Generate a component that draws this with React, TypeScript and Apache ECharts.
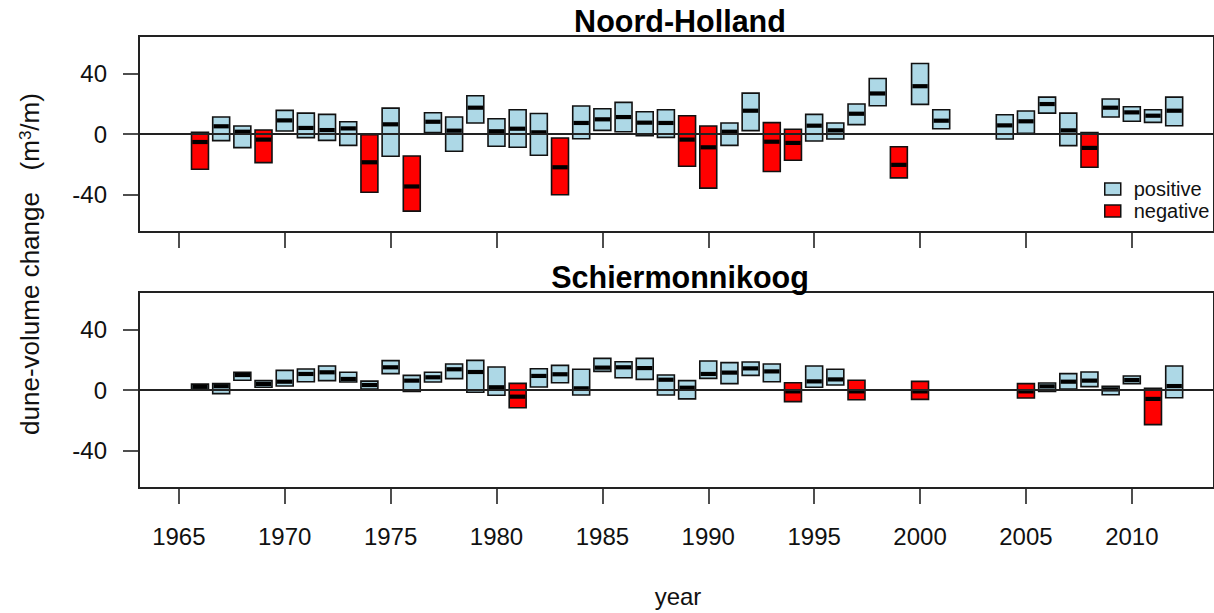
import React, { useEffect, useRef } from 'react'
import * as echarts from 'echarts'

// ---- data ----
// Noord-Holland: year, lower edge, upper edge, median
const nhYears = [
  1966, 1967, 1968, 1969, 1970, 1971, 1972, 1973, 1974, 1975, 1976, 1977, 1978, 1979, 1980,
  1981, 1982, 1983, 1984, 1985, 1986, 1987, 1988, 1989, 1990, 1991, 1992, 1993, 1994, 1995,
  1996, 1997, 1998, 1999, 2000, 2001, 2004, 2005, 2006, 2007, 2008, 2009, 2010, 2011, 2012,
]
const nhLow = [
  -23.3, -4.4, -9.0, -18.9, 2.0, -2.4, -4.2, -7.5, -38.5, -14.7, -51.0, 0.9, -11.4, 7.3, -8.1,
  -8.8, -14.1, -40.2, -3.1, 2.4, 1.5, -1.1, -2.2, -21.3, -35.8, -7.5, 2.2, -24.8, -17.4, -4.6,
  -3.3, 6.2, 18.7, -29.0, 19.6, 3.5, -3.3, 0.4, 13.8, -7.7, -22.0, 11.2, 8.4, 7.7, 5.5,
]
const nhHigh = [
  1.1, 11.2, 5.3, 2.6, 15.6, 13.8, 13.0, 8.1, -0.4, 17.1, -14.5, 14.1, 11.2, 25.3, 10.1,
  16.0, 13.6, -2.6, 18.5, 16.7, 20.9, 14.7, 16.0, 12.1, 5.3, 7.3, 27.0, 7.5, 3.1, 13.0,
  7.3, 19.8, 36.7, -8.4, 46.6, 16.0, 12.7, 15.2, 24.4, 13.8, 0.9, 23.1, 18.0, 16.0, 24.4,
]
const nhMedian = [
  -5.3, 5.1, 1.5, -3.7, 9.0, 4.0, 2.6, 3.7, -18.7, 6.4, -34.7, 8.1, 2.2, 17.4, 1.8,
  3.5, 1.1, -22.0, 7.3, 9.7, 11.2, 7.5, 7.3, -3.7, -8.8, 1.5, 15.4, -5.1, -5.9, 5.5,
  2.4, 13.4, 26.8, -20.4, 31.6, 8.8, 5.7, 8.4, 19.8, 2.4, -9.2, 17.4, 14.3, 12.1, 15.4,
]

// Schiermonnikoog
const smYears = [
  1966, 1967, 1968, 1969, 1970, 1971, 1972, 1973, 1974, 1975, 1976, 1977, 1978, 1979, 1980,
  1981, 1982, 1983, 1984, 1985, 1986, 1987, 1988, 1989, 1990, 1991, 1992, 1993, 1994, 1995,
  1996, 1997, 2000, 2005, 2006, 2007, 2008, 2009, 2010, 2011, 2012,
]
const smLow = [
  0.3, -2.4, 6.4, 1.8, 2.6, 5.5, 6.2, 5.3, 0.7, 10.8, -0.9, 5.3, 7.5, -1.5, -3.5,
  -11.7, 2.0, 4.8, -3.3, 12.3, 8.1, 7.0, -3.3, -5.9, 7.7, 4.2, 9.7, 5.5, -7.7, 1.8,
  3.3, -6.4, -6.2, -5.3, -0.9, 0.7, 2.2, -3.1, 4.2, -22.9, -5.1,
]
const smHigh = [
  3.9, 4.2, 11.7, 6.2, 13.0, 13.9, 15.9, 11.7, 5.9, 19.4, 9.7, 11.7, 17.2, 19.6, 15.2,
  4.4, 14.1, 16.3, 13.7, 20.9, 18.7, 20.9, 9.9, 6.2, 19.2, 18.1, 18.5, 17.2, 4.8, 15.9,
  13.7, 6.4, 5.7, 4.2, 4.6, 10.8, 11.9, 2.4, 9.3, 1.1, 15.9,
]
const smMedian = [
  2.1, 2.5, 9.9, 4.0, 5.5, 10.6, 11.7, 7.3, 3.3, 15.0, 6.2, 8.4, 13.7, 11.9, 1.8,
  -4.4, 9.3, 10.4, 1.1, 14.8, 15.0, 14.5, 6.8, 1.5, 10.6, 11.5, 14.3, 12.3, -0.9, 5.7,
  7.0, -0.9, -0.9, -0.9, 2.4, 5.5, 6.2, 0.4, 6.6, -5.9, 2.6,
]

const xTicks = [1965, 1970, 1975, 1980, 1985, 1990, 1995, 2000, 2005, 2010]
const yTicks = [-40, 0, 40]
const panelTitles = ['Noord-Holland', 'Schiermonnikoog']
const legendNames = ['positive', 'negative']

const X_MIN = 1963.12
const X_MAX = 2013.88
const Y_LIM = 64.8
const BAR_HALF = 0.4

const POS_COLOR = '#add8e6'
const NEG_COLOR = '#ff0000'
const FONT = '"Liberation Sans", Arial, sans-serif'

type Row = [number, number, number, number]

function buildRows(years: number[], low: number[], high: number[], med: number[]) {
  const pos: Row[] = []
  const neg: Row[] = []
  years.forEach((y, i) => {
    const row: Row = [y, low[i], high[i], med[i]]
    if (med[i] < 0) neg.push(row)
    else pos.push(row)
  })
  return { pos, neg }
}

// box + thick median bar, like a crossbar
const renderBox = (params: any, api: any) => {
  const x = api.value(0)
  const lo = api.value(1)
  const hi = api.value(2)
  const md = api.value(3)
  const p1 = api.coord([x - BAR_HALF, hi])
  const p2 = api.coord([x + BAR_HALF, lo])
  const m1 = api.coord([x - BAR_HALF, md])
  const m2 = api.coord([x + BAR_HALF, md])
  return {
    type: 'group',
    children: [
      {
        type: 'rect',
        shape: { x: p1[0], y: p1[1], width: p2[0] - p1[0], height: p2[1] - p1[1] },
        style: { fill: api.visual('color'), stroke: '#111', lineWidth: 1.6 },
      },
      {
        type: 'line',
        shape: { x1: m1[0] + 0.8, y1: m1[1], x2: m2[0] - 0.8, y2: m2[1] },
        style: { stroke: '#000', lineWidth: 4.2 },
      },
    ],
  }
}

export default function App() {
  const chartRef = useRef<HTMLDivElement>(null)

  useEffect(() => {
    if (!chartRef.current) return
    const chart = echarts.init(chartRef.current, undefined, { renderer: 'svg' })

    const nh = buildRows(nhYears, nhLow, nhHigh, nhMedian)
    const sm = buildRows(smYears, smLow, smHigh, smMedian)

    const grids = [
      { left: 139, top: 36, width: 1082, height: 196 },
      { left: 139, top: 292, width: 1082, height: 196 },
    ].map(g => ({ ...g, show: true, borderColor: '#222', borderWidth: 2, backgroundColor: 'transparent' }))

    const xAxes = [0, 1].map(i => ({
      type: 'value',
      gridIndex: i,
      min: X_MIN,
      max: X_MAX,
      axisLine: { show: false, onZero: false },
      splitLine: { show: false },
      axisTick: {
        show: true,
        customValues: xTicks,
        length: 16,
        lineStyle: { color: '#222', width: 1.6 },
      },
      axisLabel: {
        show: i === 1,
        customValues: xTicks,
        formatter: (v: number) => String(v),
        fontSize: 24,
        fontFamily: FONT,
        color: '#111',
        margin: 36,
      },
    }))

    const yAxes = [0, 1].map(i => ({
      type: 'value',
      gridIndex: i,
      min: -Y_LIM,
      max: Y_LIM,
      axisLine: { show: false, onZero: false },
      splitLine: { show: false },
      axisTick: {
        show: true,
        customValues: yTicks,
        length: 16,
        lineStyle: { color: '#222', width: 1.6 },
      },
      axisLabel: {
        customValues: yTicks,
        fontSize: 24,
        fontFamily: FONT,
        color: '#111',
        margin: 32,
      },
    }))

    const panels = [nh, sm]
    const series: any[] = []
    panels.forEach((p, i) => {
      // zero line, kept beneath the boxes
      series.push({
        type: 'line',
        xAxisIndex: i,
        yAxisIndex: i,
        data: [],
        z: 1,
        silent: true,
        markLine: {
          silent: true,
          symbol: ['none', 'none'],
          label: { show: false },
          lineStyle: { color: '#222', width: 2, type: 'solid' },
          data: [{ yAxis: 0 }],
        },
      })
      series.push({
        name: legendNames[0],
        type: 'custom',
        xAxisIndex: i,
        yAxisIndex: i,
        z: 3,
        itemStyle: { color: POS_COLOR },
        renderItem: renderBox,
        encode: { x: 0, y: [1, 2, 3] },
        data: p.pos,
      })
      series.push({
        name: legendNames[1],
        type: 'custom',
        xAxisIndex: i,
        yAxisIndex: i,
        z: 3,
        itemStyle: { color: NEG_COLOR },
        renderItem: renderBox,
        encode: { x: 0, y: [1, 2, 3] },
        data: p.neg,
      })
    })

    const option = {
      animation: false,
      backgroundColor: '#fff',
      grid: grids,
      xAxis: xAxes,
      yAxis: yAxes,
      legend: {
        data: legendNames,
        orient: 'vertical',
        left: 1099,
        top: 174,
        icon: 'rect',
        itemWidth: 16,
        itemHeight: 12,
        itemGap: 2,
        itemStyle: { borderColor: '#111', borderWidth: 1.5 },
        textStyle: { fontSize: 20, fontFamily: FONT, color: '#111', padding: [0, 0, 0, 8] },
        selectedMode: false,
      },
      graphic: [
        {
          type: 'text',
          x: 680,
          y: 21,
          style: {
            text: panelTitles[0],
            font: `bold 30.5px ${FONT}`,
            fill: '#000',
            align: 'center',
            verticalAlign: 'middle',
          },
        },
        {
          type: 'text',
          x: 680,
          y: 277,
          style: {
            text: panelTitles[1],
            font: `bold 30.5px ${FONT}`,
            fill: '#000',
            align: 'center',
            verticalAlign: 'middle',
          },
        },
        {
          type: 'text',
          x: 678,
          y: 596,
          style: {
            text: 'year',
            font: `24px ${FONT}`,
            fill: '#111',
            align: 'center',
            verticalAlign: 'middle',
          },
        },
        {
          type: 'text',
          x: 30,
          y: 264,
          rotation: Math.PI / 2,
          style: {
            text: 'dune-volume change   (m{sup|3}/m)',
            font: `26px ${FONT}`,
            fill: '#111',
            align: 'center',
            verticalAlign: 'middle',
            rich: {
              sup: { fontSize: 17, fontFamily: FONT, verticalAlign: 'top', fill: '#111' },
            },
          },
        },
      ],
      series,
    }

    chart.setOption(option)
    return () => chart.dispose()
  }, [])

  return (
    <div
      ref={chartRef}
      style={{ position: 'absolute', left: 0, top: 0, width: '1214px', height: '613px' }}
    />
  )
}
